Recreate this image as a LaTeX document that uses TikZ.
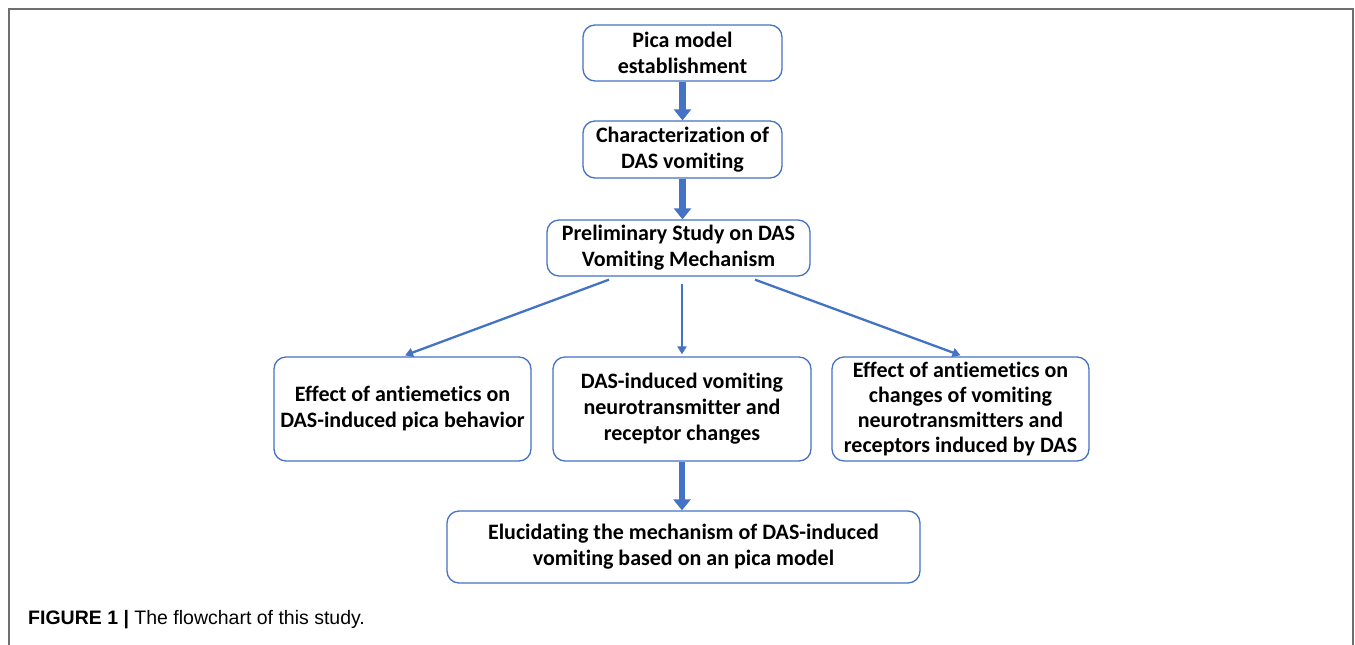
\documentclass[tikz,border=0pt]{standalone}
\usepackage{fontspec}
\setmainfont{Carlito}[RawFeature=-liga]
\newfontfamily\capfont{Liberation Sans}
\usetikzlibrary{arrows.meta}
\definecolor{boxblue}{HTML}{4472C4}
\definecolor{framegray}{HTML}{6E6E6E}
\tikzset{
  flowbox/.style={draw=boxblue, line width=1.3pt, rounded corners=12pt, align=center,
    font=\fontsize{22}{26}\selectfont\bfseries, inner sep=0pt},
  bigarrow/.style={draw=boxblue, line width=6.5pt, -{Triangle[width=17pt,length=11pt]}},
  thinarrow/.style={draw=boxblue, line width=2.3pt, -{Triangle[width=9pt,length=8pt]}},
}
\begin{document}
\begin{tikzpicture}[x=1pt,y=-1pt]
\useasboundingbox (0,0) rectangle (1355,645);
\draw[framegray, line width=1.6pt] (9,645) -- (9,9) -- (1353,9) -- (1353,645);

\node[flowbox, minimum width=199pt, minimum height=56pt] (b1) at (682.5,53) {Pica model\\establishment};
\node[flowbox, minimum width=199pt, minimum height=57pt] (b2) at (682.5,149.5) {Characterization of\\DAS vomiting};
\node[flowbox, minimum width=263pt, minimum height=56pt] (b3) at (678.5,248) {Preliminary Study on DAS\\Vomiting Mechanism};
\node[flowbox, minimum width=257pt, minimum height=104pt] (b4) at (402.5,409) {Effect of antiemetics on\\DAS-induced pica behavior};
\node[flowbox, minimum width=258pt, minimum height=104pt] (b5) at (682,409) {DAS-induced vomiting\\neurotransmitter and\\receptor changes};
\node[flowbox, minimum width=257pt, minimum height=104pt, font=\fontsize{22}{25}\selectfont\bfseries] (b6) at (960.5,409) {Effect of antiemetics on\\changes of vomiting\\neurotransmitters and\\receptors induced by DAS};
\node[flowbox, minimum width=473pt, minimum height=72pt] (b7) at (683.5,547) {Elucidating the mechanism of DAS-induced\\vomiting based on an pica model};

\draw[bigarrow] (b1.south) -- (b1.south |- b2.north);
\draw[bigarrow] (b2.south) -- (b2.south |- b3.north);
\draw[bigarrow] (b5.south) -- (b5.south |- b7.north);

\draw[thinarrow] ([xshift=-69.5pt,yshift=-3pt]b3.south) -- ([xshift=2.5pt,yshift=1pt]b4.north);
\draw[thinarrow] ([xshift=3.5pt,yshift=-7pt]b3.south) -- ([yshift=2pt]b5.north);
\draw[thinarrow] ([xshift=76.5pt,yshift=-3pt]b3.south) -- ([yshift=1pt]b6.north);

\node[anchor=base west, inner sep=0pt, font=\capfont\fontsize{19.5}{23}\selectfont] (cap) at (28,624) {\textbf{FIGURE 1 |} The flowchart of this study.};
\end{tikzpicture}
\end{document}
